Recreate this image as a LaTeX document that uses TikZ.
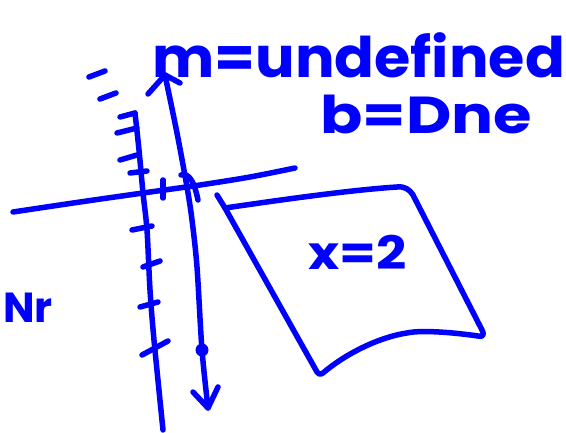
\documentclass[tikz,border=0pt]{standalone}
\usepackage{fontspec}
\setmainfont{Poppins}
\definecolor{ink}{RGB}{0,0,255}
\begin{document}
\begin{tikzpicture}[x=1pt,y=-1pt,
  pen/.style={draw=ink,line width=5.5pt,line cap=round,line join=round},
  hand/.style={text=ink,inner sep=0pt,font=\fontsize{#1}{#1}\selectfont\bfseries},
  hand/.default=50]
\useasboundingbox (0,0) rectangle (566,433);
% horizontal axis
\draw[pen] plot[smooth] coordinates {(13,212) (80,202) (143,193) (200,185) (250,177) (295,168)};
% vertical axis with ticks
\draw[pen] plot[smooth] coordinates {(135,113) (139,150) (143,193) (147,230) (150,290) (154,340) (163,430)};
\draw[pen] (120,117) -- (135,113);
\draw[pen] (117,133) -- (137,128);
\draw[pen] (120,160) -- (137,155);
\draw[pen] (130,173) -- (147,171);
\draw[pen] (163,180) -- (163,198);
\draw[pen] (132,230) -- (152,226);
\draw[pen] (143,267) -- (160,261);
\draw[pen] (140,307) -- (158,302);
\draw[pen] (142,355) -- (168,341);
\draw[pen] (89,77) -- (105,71);
\draw[pen] (100,99) -- (116,93);
% line with arrows
\draw[pen] plot[smooth] coordinates {(165,75) (177,133) (187,187) (192,220) (197,267) (202,350) (208,408)};
\draw[pen] (148,94) -- (165,75) -- (180,83);
\draw[pen] (193,392) -- (208,408) -- (218,387);
\fill[ink] (202,350) circle (6.5);
\draw[pen] (181,175) .. controls (190,172) and (195,185) .. (198,200);
% region
\draw[pen] (217,195) -- (225,208);
\draw[pen] (225,208) .. controls (280,200) and (350,190) .. (397,187)
  .. controls (405,186) and (410,190) .. (413,195)
  -- (482,330) .. controls (485,336) and (482,337) .. (478,336)
  .. controls (450,332) and (420,330) .. (407,333)
  .. controls (385,336) and (350,350) .. (323,373)
  .. controls (320,375) and (318,374) .. (317,372) -- cycle;
% texts
\node[hand=56,anchor=base west] (mtext) at (152,78) {\scalebox{1.05}[1]{m=undefined}};
\node[hand=52,anchor=base west] (btext) at (320,134) {\scalebox{1.2}[1]{b=Dne}};
\node[hand=46,anchor=base west] (xtext) at (308,270) {\scalebox{1.15}[1]{x=2}};
\node[hand=42,anchor=base west] (nr) at (3,323) {Nr};
\end{tikzpicture}
\end{document}
